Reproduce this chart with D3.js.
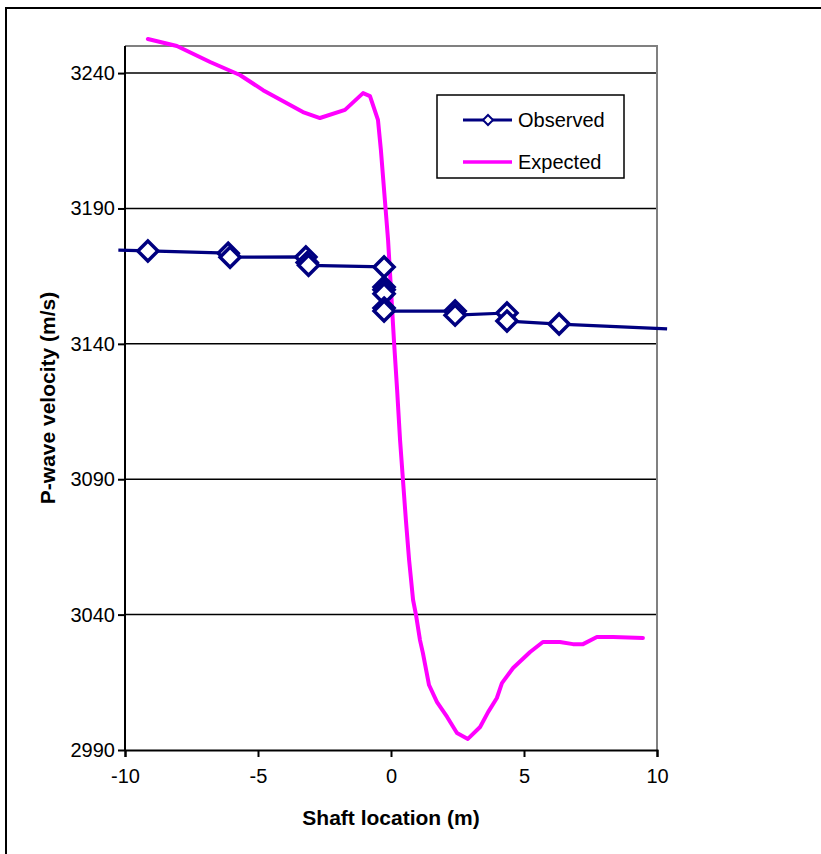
<!DOCTYPE html>
<html>
<head>
<meta charset="utf-8">
<script src="https://cdn.jsdelivr.net/npm/d3@7"></script>
<style>
  html, body { margin: 0; padding: 0; background: #fff; }
  svg { display: block; font-family: "Liberation Sans", Arial, sans-serif; }
</style>
</head>
<body>
<svg id="chart" width="821" height="854"></svg>
<script>
// ---------- data ----------
const xTicks = [-10, -5, 0, 5, 10];
const yTicks = [2990, 3040, 3090, 3140, 3190, 3240];

const seriesNames = ["Observed", "Expected"];

// Observed: shaft location (m) and P-wave velocity (m/s)
const observedX = [-10.25, -9.14, -6.12, -6.05, -3.2, -3.15, -3.1, -0.26, -0.26, -0.26, -0.26, -0.26, -0.26, 2.41, 2.41, 4.36, 4.36, 6.32, 10.38];
const observedV = [3174.6, 3174.3, 3173.5, 3172.0, 3172.1, 3170.0, 3169.0, 3168.4, 3161.0, 3160.0, 3158.5, 3153.2, 3152.1, 3152.1, 3150.6, 3151.4, 3148.4, 3147.3, 3145.5];

// Expected curve
const expectedX = [-9.14, -8.05, -6.80, -5.68, -4.81, -3.31, -2.67, -1.73, -1.05, -0.79, -0.49, -0.38, -0.23, -0.11, 0.0, 0.11, 0.23, 0.34, 0.45, 0.56, 0.68, 0.83, 0.94, 1.09, 1.20, 1.43, 1.73, 2.11, 2.48, 2.89, 3.35, 3.65, 3.98, 4.17, 4.59, 5.23, 5.71, 6.35, 6.84, 7.22, 7.74, 8.35, 9.47];
const expectedV = [3252.6, 3250.0, 3244.1, 3239.3, 3233.7, 3225.6, 3223.4, 3226.4, 3232.6, 3231.5, 3222.7, 3211.6, 3193.1, 3178.3, 3159.9, 3141.4, 3123.0, 3104.5, 3089.7, 3074.9, 3060.2, 3045.4, 3039.9, 3030.6, 3025.8, 3014.0, 3007.7, 3002.2, 2996.3, 2994.1, 2998.5, 3004.0, 3009.2, 3014.7, 3020.3, 3026.2, 3029.9, 3029.9, 3029.1, 3029.1, 3031.7, 3031.7, 3031.4];

// ---------- layout ----------
const svg = d3.select("#chart");
const plot = { left: 125, right: 657, top: 46, bottom: 750 };
const navy = "#000080", magenta = "#FF00FF";

const x = d3.scaleLinear().domain([-10, 10]).range([plot.left, plot.right]);
const y = d3.scaleLinear().domain([2990, 3250]).range([plot.bottom, plot.top]);

// outer chart border
svg.append("rect").attr("x", 6).attr("y", 8).attr("width", 840).attr("height", 870)
  .attr("fill", "#fff").attr("stroke", "#000").attr("stroke-width", 2);

// gridlines
svg.append("g").selectAll("line").data(yTicks.filter(d => d !== 2990)).join("line")
  .attr("x1", plot.left).attr("x2", plot.right)
  .attr("y1", d => y(d)).attr("y2", d => y(d))
  .attr("stroke", "#000").attr("stroke-width", 1.5);

// plot frame (top and right grey)
svg.append("path")
  .attr("d", `M${plot.left},${plot.top}H${plot.right}V${plot.bottom}`)
  .attr("fill", "none").attr("stroke", "#808080").attr("stroke-width", 2);

// axes
const fmt = d => String(d);
const xAxis = d3.axisBottom(x).tickValues(xTicks).tickSize(7).tickPadding(12).tickFormat(fmt);
const yAxis = d3.axisLeft(y).tickValues(yTicks).tickSize(7).tickPadding(3).tickFormat(fmt);

const gx = svg.append("g").attr("transform", `translate(0,${plot.bottom})`).call(xAxis);
const gy = svg.append("g").attr("transform", `translate(${plot.left},0)`).call(yAxis);
[gx, gy].forEach(g => {
  g.select(".domain").attr("stroke", "#000").attr("stroke-width", 2);
  g.selectAll(".tick line").attr("stroke", "#000").attr("stroke-width", 2);
  g.selectAll(".tick text").attr("fill", "#000").style("font-size", "20px")
    .style("font-family", '"Liberation Sans", Arial, sans-serif');
});
gy.select(".domain").attr("d", `M0,${plot.top}V${plot.bottom}`);

// axis titles
svg.append("text").attr("x", 391).attr("y", 825).attr("text-anchor", "middle")
  .style("font-size", "21px").style("font-weight", "bold").text("Shaft location (m)");
svg.append("text").attr("transform", `translate(55,398) rotate(-90)`).attr("text-anchor", "middle")
  .style("font-size", "21px").style("font-weight", "bold").text("P-wave velocity (m/s)");

// expected line
const expData = expectedX.map((d, i) => [d, expectedV[i]]);
svg.append("path").datum(expData)
  .attr("d", d3.line().x(d => x(d[0])).y(d => y(d[1])))
  .attr("fill", "none").attr("stroke", magenta).attr("stroke-width", 4)
  .attr("stroke-linejoin", "round").attr("stroke-linecap", "round");

// observed line + markers
const obsData = observedX.map((d, i) => [d, observedV[i]]);
svg.append("path").datum(obsData)
  .attr("d", d3.line().x(d => x(d[0])).y(d => y(d[1])))
  .attr("fill", "none").attr("stroke", navy).attr("stroke-width", 3.2)
  .attr("stroke-linejoin", "round");

const diamond = (cx, cy, r) => `M${cx},${cy - r}L${cx + r},${cy}L${cx},${cy + r}L${cx - r},${cy}Z`;
svg.append("g").selectAll("path").data(obsData.filter(d => d[0] >= -10 && d[0] <= 10)).join("path")
  .attr("d", d => diamond(x(d[0]), y(d[1]), 10))
  .attr("fill", "#fff").attr("stroke", navy).attr("stroke-width", 3.5);

// legend
const lg = svg.append("g");
lg.append("rect").attr("x", 437).attr("y", 95).attr("width", 187).attr("height", 83)
  .attr("fill", "#fff").attr("stroke", "#000").attr("stroke-width", 1.5);
lg.append("line").attr("x1", 463).attr("x2", 512).attr("y1", 120).attr("y2", 120)
  .attr("stroke", navy).attr("stroke-width", 3.2);
lg.append("path").attr("d", diamond(488, 120, 5)).attr("fill", "#fff").attr("stroke", navy).attr("stroke-width", 2);
lg.append("line").attr("x1", 463).attr("x2", 512).attr("y1", 162).attr("y2", 162)
  .attr("stroke", magenta).attr("stroke-width", 3.5);
lg.append("text").attr("x", 518).attr("y", 127).style("font-size", "20px").text(seriesNames[0]);
lg.append("text").attr("x", 518).attr("y", 169).style("font-size", "20px").text(seriesNames[1]);
</script>
</body>
</html>
